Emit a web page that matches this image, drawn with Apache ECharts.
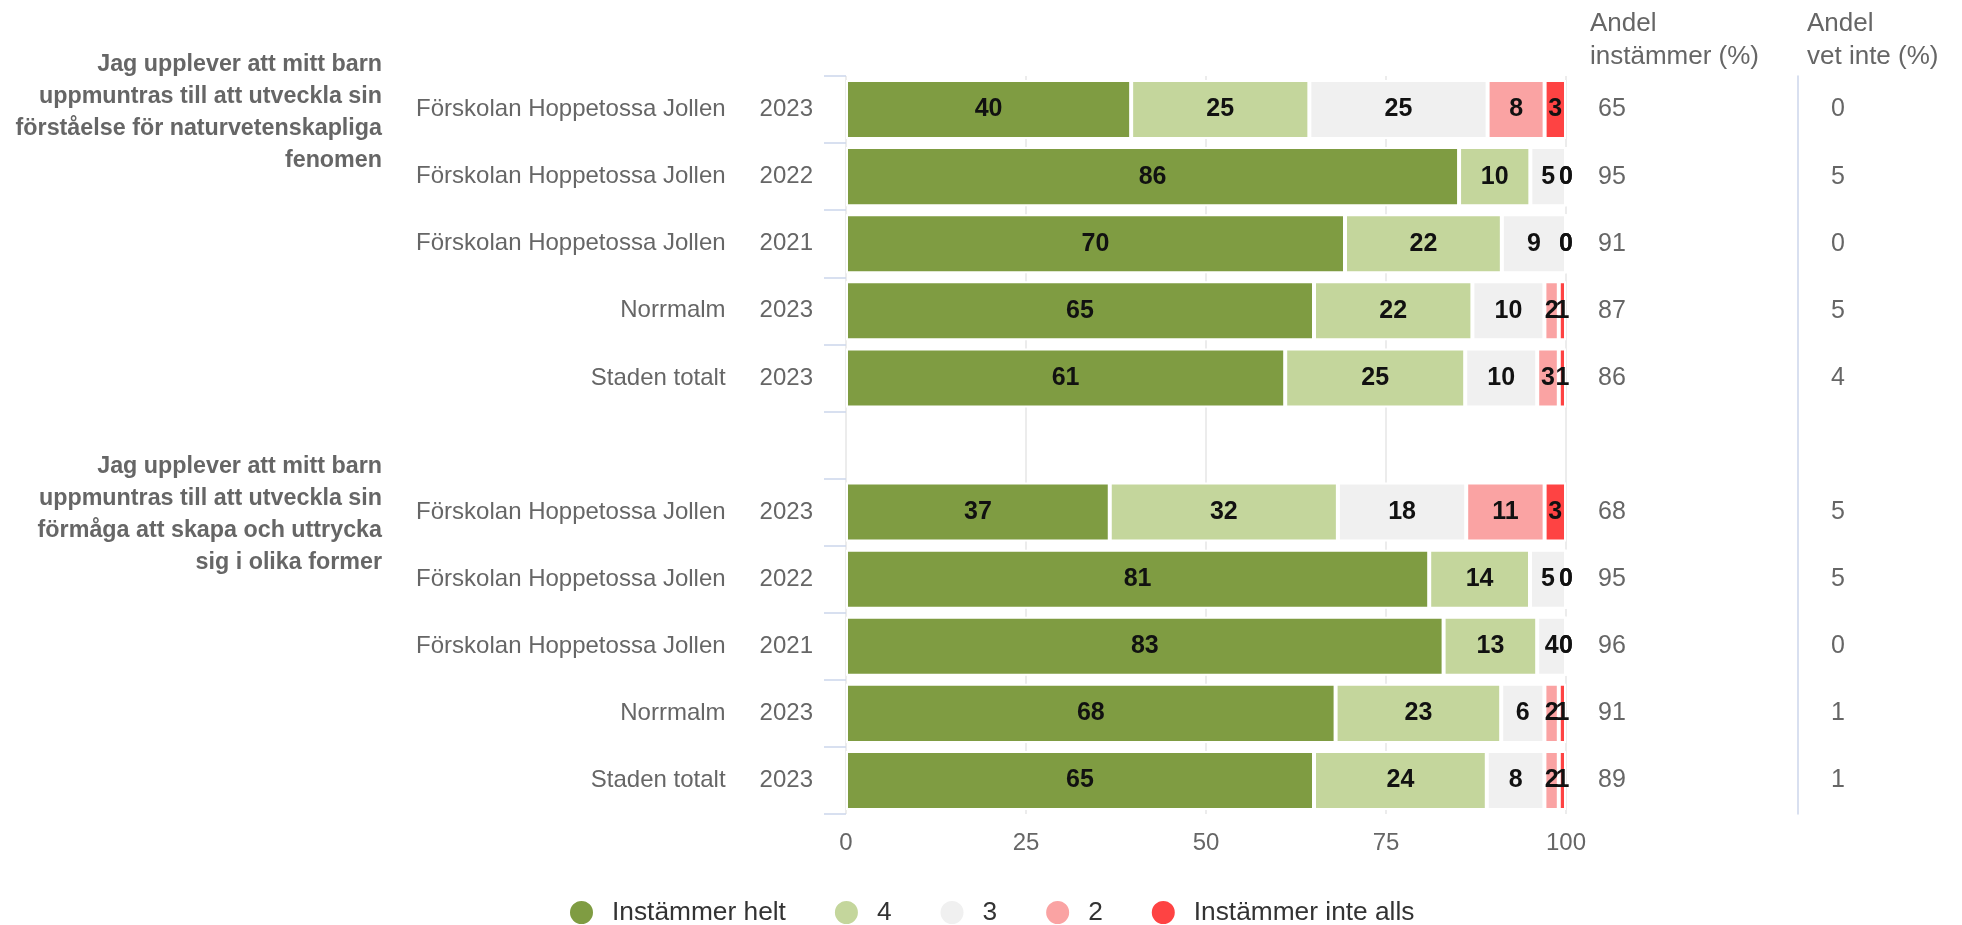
<!DOCTYPE html>
<html>
<head>
<meta charset="utf-8">
<script src="https://cdn.jsdelivr.net/npm/echarts@6/dist/echarts.min.js"></script>
<style>
html,body{margin:0;padding:0;background:#fff;}
#chart{width:1962px;height:925px;}
</style>
</head>
<body>
<div id="chart"></div>
<script>
// ---- data ----
const categories = ['Förskolan Hoppetossa Jollen','Förskolan Hoppetossa Jollen','Förskolan Hoppetossa Jollen','Norrmalm','Staden totalt','',
  'Förskolan Hoppetossa Jollen','Förskolan Hoppetossa Jollen','Förskolan Hoppetossa Jollen','Norrmalm','Staden totalt'];
const years = ['2023','2022','2021','2023','2023','','2023','2022','2021','2023','2023'];
const seriesNames = ['Instämmer helt','4','3','2','Instämmer inte alls'];
const instammerHelt = [40,86,70,65,61,null,37,81,83,68,65];
const svar4 = [25,10,22,22,25,null,32,14,13,23,24];
const svar3 = [25,5,9,10,10,null,18,5,4,6,8];
const svar2 = [8,0,0,2,3,null,11,0,0,2,2];
const instammerInteAlls = [3,0,0,1,1,null,3,0,0,1,1];
const andelInstammer = [65,95,91,87,86,null,68,95,96,91,89];
const andelVetInte = [0,5,0,5,4,null,5,5,0,1,1];
const xTicks = [0,25,50,75,100];
const questions = [
  {row:0, text:'Jag upplever att mitt barn\nuppmuntras till att utveckla sin\nförståelse för naturvetenskapliga\nfenomen'},
  {row:6, text:'Jag upplever att mitt barn\nuppmuntras till att utveckla sin\nförmåga att skapa och uttrycka\nsig i olika former'}
];
const headers = ['Andel\ninstämmer (%)','Andel\nvet inte (%)'];
const colors = ['#7f9c42','#c4d69c','#f0f0f0','#faa3a3','#fe4343'];

// ---- build ----
const raw = [instammerHelt, svar4, svar3, svar2, instammerInteAlls];
const totals = categories.map((c,i)=> raw.reduce((s,a)=> s + (a[i]==null?0:a[i]), 0));
const idx = categories.map((c,i)=> String(i));
const ff = 'Liberation Sans, Arial, sans-serif';

const series = raw.map((arr,k)=>({
  name: seriesNames[k],
  type:'bar',
  stack:'total',
  barCategoryGap:'12%',
  itemStyle:{color:colors[k], borderColor:'#fff', borderWidth:2},
  label:{show:true, position:'inside', color:'#111', fontWeight:'bold', fontSize:25,
    fontFamily:ff,
    formatter:(p)=> String(arr[p.dataIndex])},
  data: arr.map((v,i)=> v==null ? '-' : v/totals[i]*100)
}));

const chart = echarts.init(document.getElementById('chart'), null, {renderer:'canvas'});
const option = {
  animation:false,
  backgroundColor:'#fff',
  color: colors,
  textStyle:{fontFamily:ff},
  grid:{left:846, right:396, top:76, bottom:111, containLabel:false},
  legend:{
    left:563, top:894, icon:'circle', itemWidth:25, itemHeight:25, itemGap:47,
    data: seriesNames,
    textStyle:{fontSize:26.3, color:'#333', fontFamily:ff, padding:[0,0,0,13]}
  },
  xAxis:{
    type:'value', min:0, max:100, interval:25,
    axisLine:{show:false}, axisTick:{show:false},
    splitLine:{show:true, lineStyle:{color:'#e6e6e6', width:1.5}},
    axisLabel:{fontSize:24, color:'#666', margin:17, fontFamily:ff,
      formatter:(v)=> xTicks.indexOf(v)>=0 ? String(v) : ''}
  },
  yAxis:[
    {type:'category', data:idx, inverse:true,
      axisLine:{show:false},
      axisTick:{show:true, length:22, lineStyle:{color:'#ccd6eb', width:1.5}},
      axisLabel:{margin:33, color:'#666', fontSize:24, fontFamily:ff,
        formatter:(v)=> { const i=+v; return categories[i] ? '{n|'+categories[i]+'}{y|'+years[i]+'}' : ''; },
        rich:{n:{fontSize:24, color:'#666', fontFamily:ff}, y:{fontSize:24, color:'#666', fontFamily:ff, padding:[0,0,0,34]}}
      }},
    {type:'category', data:idx, inverse:true, position:'right', offset:0,
      axisLine:{show:false}, axisTick:{show:false},
      axisLabel:{margin:32, align:'left', color:'#666', fontSize:25, fontFamily:ff,
        formatter:(v)=> andelInstammer[+v]==null ? '' : String(andelInstammer[+v])}},
    {type:'category', data:idx, inverse:true, position:'right', offset:232,
      axisLine:{show:true, lineStyle:{color:'#ccd6eb', width:1.5}}, axisTick:{show:false},
      axisLabel:{margin:40, align:'center', color:'#666', fontSize:25, fontFamily:ff,
        formatter:(v)=> andelVetInte[+v]==null ? '' : String(andelVetInte[+v])}}
  ],
  series: series
};
chart.setOption(option);

// text elements placed from axis positions
const gfx = [];
questions.forEach((q,j)=>{
  const y = chart.convertToPixel({yAxisIndex:0}, String(q.row));
  gfx.push({type:'text', x:382, y:y+(j===0?3:2), style:{text:q.text, align:'right', verticalAlign:'middle',
    fontSize:23.3, fontWeight:'bold', fill:'#666', lineHeight:32, fontFamily:ff}});
});
gfx.push({type:'text', x:1590, y:7, style:{text:headers[0], fontSize:26, fill:'#666', lineHeight:33, fontFamily:ff}});
gfx.push({type:'text', x:1807, y:7, style:{text:headers[1], fontSize:26, fill:'#666', lineHeight:33, fontFamily:ff}});
chart.setOption({graphic:gfx});
</script>
</body>
</html>
